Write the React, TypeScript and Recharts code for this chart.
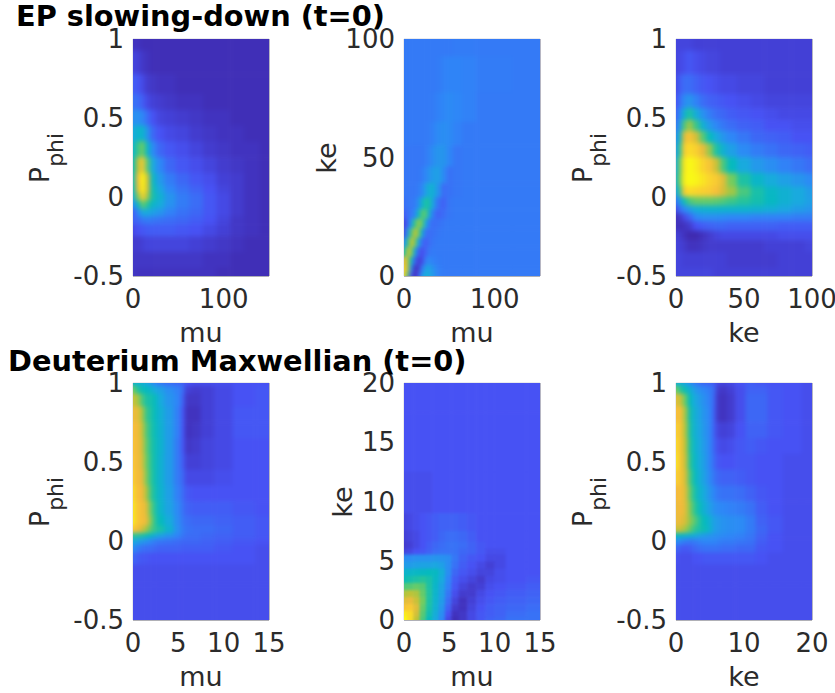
import { ScatterChart, Scatter, XAxis, YAxis, ReferenceLine } from 'recharts'

// colour map stops (parula), value 0..1 -> rgb
const parula = [
    [62, 38, 168], [71, 82, 244], [46, 135, 247], [25, 170, 222], [5, 186, 190], [45, 197, 148],
    [115, 204, 95], [190, 195, 55], [245, 186, 60], [250, 212, 45], [249, 251, 21],
]

const colorOf = (v: number) => {
    const p = Math.min(Math.max(v, 0), 1) * (parula.length - 1)
    const i = Math.min(Math.floor(p), parula.length - 2)
    const f = p - i
    const c = parula[i].map((a, k) => Math.round(a + (parula[i + 1][k] - a) * f))
    return `rgb(${c[0]},${c[1]},${c[2]})`
}

const phiRows = [1, 0.96, 0.9, 0.8, 0.7, 0.6, 0.5, 0.4, 0.3, 0.2, 0.12, 0.07, 0.03, 0, -0.05, -0.1, -0.2, -0.35, -0.5]

// EP slowing-down
const epMuX = [0, 6, 11, 16, 22, 30, 40, 55, 70, 85, 100, 115, 130, 150]
const epPhiY = [1, 0.85, 0.7, 0.6, 0.5, 0.4, 0.3, 0.2, 0.1, 0.05, 0, -0.05, -0.1, -0.15, -0.2, -0.3, -0.4, -0.5]
const epMuPhi = [
    [.03, .03, .02, .02, .02, .02, .02, .02, .02, .02, .02, .02, .02, .02],
    [.07, .06, .04, .03, .02, .02, .02, .02, .02, .02, .02, .02, .02, .02],
    [.12, .11, .08, .05, .04, .03, .03, .02, .02, .02, .02, .02, .02, .02],
    [.16, .15, .12, .08, .06, .05, .04, .03, .03, .02, .02, .02, .02, .02],
    [.22, .23, .20, .15, .10, .07, .06, .05, .04, .03, .03, .02, .02, .02],
    [.30, .36, .36, .24, .14, .10, .08, .07, .05, .04, .03, .03, .02, .02],
    [.36, .52, .60, .38, .21, .14, .11, .09, .07, .05, .04, .03, .03, .02],
    [.40, .70, .86, .56, .30, .20, .14, .11, .09, .07, .05, .04, .03, .02],
    [.42, .80, 1.0, .74, .38, .25, .18, .14, .11, .09, .06, .05, .03, .02],
    [.40, .78, .98, .74, .42, .29, .20, .16, .13, .10, .07, .05, .03, .02],
    [.32, .62, .88, .66, .44, .34, .24, .18, .15, .11, .08, .05, .03, .02],
    [.22, .38, .58, .48, .37, .31, .23, .18, .15, .11, .08, .05, .03, .02],
    [.12, .20, .30, .30, .27, .24, .19, .16, .14, .11, .08, .05, .03, .02],
    [.13, .14, .17, .18, .17, .16, .15, .14, .12, .10, .07, .04, .03, .02],
    [.08, .10, .11, .12, .12, .12, .12, .11, .10, .08, .06, .04, .03, .02],
    [.05, .05, .06, .07, .07, .07, .07, .07, .06, .05, .04, .03, .02, .02],
    [.04, .04, .04, .04, .04, .04, .04, .04, .04, .03, .03, .02, .02, .02],
    [.04, .03, .03, .03, .03, .03, .03, .03, .03, .03, .02, .02, .02, .02],
]

const epKeMuX = [0, 4, 8, 12, 16, 20, 24, 28, 32, 38, 44, 50, 58, 70, 90, 150]
const epKeY = [100, 85, 70, 60, 50, 42, 36, 30, 26, 22, 18, 14, 10, 6, 3, 0]
const epMuKe = [
    [.175, .175, .175, .175, .175, .175, .175, .175, .175, .175, .175, .175, .18, .18, .175, .175],
    [.175, .175, .175, .175, .175, .175, .175, .175, .175, .18, .19, .195, .195, .19, .18, .175],
    [.175, .175, .175, .175, .175, .175, .175, .175, .18, .19, .20, .21, .20, .19, .175, .175],
    [.175, .175, .175, .175, .175, .175, .175, .18, .19, .21, .22, .21, .19, .175, .175, .175],
    [.17, .17, .17, .17, .17, .17, .18, .19, .22, .24, .24, .20, .17, .175, .175, .175],
    [.17, .17, .17, .17, .17, .18, .20, .23, .26, .27, .21, .16, .17, .175, .175, .175],
    [.17, .17, .17, .17, .18, .20, .27, .33, .33, .24, .15, .16, .17, .175, .175, .175],
    [.15, .17, .17, .18, .22, .34, .46, .44, .28, .16, .13, .17, .175, .175, .175, .175],
    [.12, .15, .17, .20, .36, .54, .56, .34, .18, .13, .15, .17, .175, .175, .175, .175],
    [.07, .12, .26, .50, .64, .58, .32, .18, .15, .16, .17, .175, .175, .175, .175, .175],
    [.08, .24, .52, .70, .62, .34, .16, .15, .16, .17, .175, .175, .175, .175, .175, .175],
    [.20, .46, .70, .64, .32, .16, .12, .15, .17, .175, .175, .175, .175, .175, .175, .175],
    [.42, .68, .66, .34, .13, .09, .13, .17, .18, .175, .175, .175, .175, .175, .175, .175],
    [.76, .72, .42, .15, .06, .08, .18, .21, .19, .18, .175, .175, .175, .175, .175, .175],
    [.88, .70, .24, .04, .05, .17, .27, .28, .23, .19, .175, .175, .175, .175, .175, .175],
    [.88, .58, .12, .02, .09, .25, .32, .30, .25, .19, .175, .175, .175, .175, .175, .175],
]

const epKeX = [0, 3, 6, 10, 15, 20, 25, 30, 35, 40, 50, 60, 70, 80, 90, 100]
const epKePhiY = [1, 0.85, 0.7, 0.6, 0.52, 0.45, 0.38, 0.3, 0.2, 0.1, 0.03, -0.03, -0.08, -0.13, -0.18, -0.25, -0.3, -0.4, -0.5]
const epKePhi = [
    [.07, .07, .07, .07, .06, .06, .06, .06, .06, .06, .06, .06, .06, .06, .06, .06],
    [.07, .08, .09, .11, .09, .08, .07, .07, .06, .06, .06, .06, .06, .06, .06, .06],
    [.08, .12, .15, .15, .13, .11, .10, .09, .08, .08, .07, .07, .06, .06, .06, .06],
    [.10, .15, .21, .24, .19, .15, .13, .12, .11, .10, .09, .08, .07, .07, .07, .07],
    [.13, .20, .34, .46, .32, .23, .18, .15, .14, .12, .11, .10, .09, .08, .08, .08],
    [.17, .26, .54, .66, .52, .34, .25, .20, .17, .15, .13, .12, .10, .10, .09, .09],
    [.22, .38, .76, .84, .74, .56, .40, .30, .24, .20, .17, .14, .13, .12, .10, .10],
    [.26, .48, .86, .92, .88, .78, .64, .46, .34, .27, .21, .18, .16, .14, .13, .12],
    [.30, .58, .94, 1.0, .96, .90, .84, .72, .54, .40, .30, .25, .22, .19, .17, .15],
    [.34, .60, .96, 1.0, .98, .94, .90, .86, .76, .60, .46, .37, .31, .27, .24, .21],
    [.28, .50, .86, .92, .90, .88, .86, .82, .74, .66, .54, .45, .38, .34, .30, .26],
    [.16, .26, .42, .54, .58, .58, .58, .57, .55, .52, .48, .44, .39, .34, .30, .27],
    [.08, .15, .20, .26, .32, .34, .35, .35, .35, .35, .35, .34, .32, .29, .26, .24],
    [.02, .04, .08, .13, .20, .22, .22, .22, .21, .20, .20, .19, .19, .19, .18, .18],
    [.03, .02, .03, .05, .10, .12, .13, .14, .14, .13, .13, .13, .13, .12, .12, .12],
    [.06, .05, .03, .01, .01, .03, .05, .07, .08, .08, .08, .08, .08, .09, .09, .09],
    [.07, .06, .05, .03, .03, .04, .05, .05, .05, .05, .05, .05, .06, .06, .06, .07],
    [.07, .07, .06, .06, .06, .06, .06, .06, .06, .05, .05, .05, .05, .06, .06, .06],
    [.07, .07, .07, .07, .07, .07, .07, .06, .06, .06, .06, .06, .06, .06, .06, .06],
]

// Deuterium Maxwellian
const dMuX = [0, 0.5, 1, 1.5, 2, 2.5, 3, 4, 5, 5.5, 6, 7, 8, 10, 12, 15]
const dMuPhi = [
    [.35, .35, .33, .30, .24, .20, .17, .15, .14, .13, .10, .09, .09, .09, .10, .10],
    [.60, .50, .42, .40, .36, .30, .27, .22, .19, .15, .06, .05, .06, .08, .10, .11],
    [.72, .68, .55, .46, .44, .40, .30, .24, .20, .13, .04, .04, .06, .08, .10, .11],
    [.78, .78, .68, .52, .46, .40, .33, .26, .19, .11, .03, .03, .06, .08, .11, .11],
    [.82, .80, .72, .56, .47, .41, .34, .26, .19, .11, .03, .04, .06, .08, .11, .11],
    [.84, .80, .74, .58, .48, .42, .35, .26, .18, .11, .04, .05, .07, .08, .10, .10],
    [.85, .80, .75, .60, .49, .42, .34, .26, .18, .12, .06, .06, .07, .08, .10, .10],
    [.88, .80, .78, .62, .50, .42, .34, .26, .18, .14, .08, .08, .08, .09, .10, .10],
    [.92, .82, .80, .68, .52, .43, .35, .27, .19, .15, .11, .10, .10, .10, .10, .10],
    [.95, .85, .82, .76, .58, .46, .36, .28, .21, .16, .13, .12, .12, .12, .11, .10],
    [.96, .85, .82, .78, .62, .48, .40, .31, .22, .17, .15, .14, .14, .13, .12, .11],
    [.85, .80, .74, .66, .56, .50, .45, .35, .23, .18, .16, .15, .15, .14, .12, .11],
    [.50, .48, .46, .42, .38, .32, .28, .24, .20, .17, .15, .15, .14, .13, .12, .11],
    [.30, .28, .25, .23, .20, .18, .17, .16, .15, .14, .14, .14, .13, .12, .11, .10],
    [.22, .18, .16, .15, .15, .14, .13, .13, .13, .12, .12, .12, .12, .11, .10, .09],
    [.14, .12, .11, .11, .10, .10, .10, .10, .10, .10, .10, .10, .10, .10, .10, .09],
    [.09, .09, .09, .09, .09, .09, .09, .09, .09, .09, .09, .09, .09, .09, .09, .09],
    [.09, .09, .09, .09, .09, .09, .09, .09, .09, .09, .09, .09, .09, .09, .09, .09],
    [.09, .09, .09, .09, .09, .09, .09, .09, .09, .09, .09, .09, .09, .09, .09, .09],
]

const dKeMuX = [0, 0.7, 1.4, 2.1, 2.8, 3.5, 4.2, 4.9, 5.6, 6.5, 7.5, 8.5, 9.5, 10.5, 12, 15]
const dKeY = [20, 15, 10, 8, 7, 6.2, 5.8, 5.2, 4.6, 4, 3.4, 2.8, 2.2, 1.6, 1, 0.5, 0]
const dMuKe = [
    [.10, .10, .10, .10, .10, .10, .10, .10, .10, .10, .10, .10, .10, .10, .10, .10],
    [.10, .10, .10, .10, .10, .10, .10, .10, .10, .10, .10, .10, .10, .10, .10, .10],
    [.09, .09, .09, .09, .09, .10, .10, .10, .10, .10, .10, .10, .10, .10, .10, .10],
    [.07, .08, .09, .10, .11, .12, .13, .13, .13, .12, .11, .10, .10, .10, .10, .10],
    [.06, .07, .08, .10, .11, .12, .14, .15, .15, .14, .12, .10, .10, .10, .10, .10],
    [.05, .06, .08, .10, .12, .14, .15, .16, .16, .15, .13, .11, .10, .10, .10, .10],
    [.07, .08, .10, .11, .13, .15, .16, .16, .16, .14, .13, .11, .09, .09, .10, .10],
    [.22, .22, .23, .23, .23, .24, .23, .22, .17, .13, .11, .10, .08, .08, .10, .10],
    [.26, .26, .27, .28, .28, .29, .27, .22, .16, .12, .10, .08, .06, .08, .10, .10],
    [.36, .37, .38, .39, .40, .39, .32, .22, .14, .11, .09, .07, .07, .09, .10, .10],
    [.42, .44, .46, .48, .45, .38, .30, .20, .12, .09, .07, .05, .08, .09, .10, .11],
    [.55, .56, .58, .56, .46, .37, .28, .19, .11, .07, .05, .06, .09, .10, .11, .12],
    [.68, .70, .68, .58, .47, .36, .27, .17, .09, .05, .05, .08, .10, .11, .12, .13],
    [.76, .78, .72, .60, .46, .35, .26, .15, .07, .03, .06, .09, .11, .12, .13, .14],
    [.84, .86, .76, .58, .45, .34, .24, .13, .05, .03, .07, .10, .12, .13, .14, .15],
    [.96, .92, .74, .56, .43, .32, .22, .10, .03, .04, .08, .11, .12, .13, .15, .16],
    [1.0, .92, .70, .54, .40, .30, .20, .08, .02, .04, .08, .11, .13, .14, .16, .16],
]

const dKeX = [0, 0.7, 1.4, 2.1, 2.8, 3.5, 4.2, 5, 5.6, 6.2, 7, 8, 9.5, 11, 12.5, 14.5, 17, 20]
const dKePhi = [
    [.33, .33, .28, .22, .18, .15, .14, .13, .12, .08, .07, .08, .10, .12, .11, .10, .10, .09],
    [.60, .50, .42, .34, .26, .22, .20, .18, .15, .05, .04, .06, .09, .13, .13, .11, .10, .09],
    [.76, .72, .58, .40, .30, .26, .22, .19, .14, .04, .03, .05, .09, .14, .14, .11, .10, .09],
    [.82, .82, .66, .44, .33, .28, .23, .20, .13, .04, .03, .05, .09, .14, .14, .11, .10, .09],
    [.88, .84, .68, .46, .34, .29, .24, .20, .13, .07, .06, .07, .10, .13, .13, .11, .10, .09],
    [.92, .84, .70, .48, .36, .30, .25, .20, .14, .09, .08, .09, .11, .12, .11, .10, .10, .09],
    [.94, .84, .72, .50, .38, .31, .26, .20, .15, .11, .10, .10, .11, .11, .10, .10, .09, .09],
    [.88, .84, .74, .54, .41, .33, .27, .21, .17, .14, .13, .13, .12, .11, .10, .10, .09, .09],
    [.80, .82, .76, .58, .45, .36, .30, .24, .20, .17, .16, .16, .15, .13, .11, .10, .09, .09],
    [.78, .80, .76, .62, .50, .41, .33, .27, .23, .21, .20, .19, .18, .16, .12, .10, .09, .09],
    [.78, .78, .74, .64, .56, .47, .40, .34, .27, .25, .23, .22, .21, .18, .13, .11, .09, .09],
    [.72, .72, .66, .58, .50, .45, .42, .36, .27, .25, .23, .22, .21, .18, .14, .11, .09, .09],
    [.40, .38, .36, .34, .32, .28, .26, .24, .23, .22, .21, .20, .19, .17, .13, .10, .09, .09],
    [.22, .20, .18, .17, .18, .19, .20, .20, .20, .19, .18, .18, .17, .16, .12, .10, .09, .09],
    [.14, .12, .11, .12, .14, .15, .16, .16, .16, .16, .15, .15, .14, .14, .11, .10, .09, .09],
    [.10, .09, .09, .09, .10, .10, .11, .11, .11, .11, .11, .11, .11, .11, .10, .09, .09, .09],
    [.09, .09, .09, .09, .09, .09, .09, .09, .09, .09, .09, .09, .09, .09, .09, .09, .09, .09],
    [.09, .09, .09, .09, .09, .09, .09, .09, .09, .09, .09, .09, .09, .09, .09, .09, .09, .09],
    [.09, .09, .09, .09, .09, .09, .09, .09, .09, .09, .09, .09, .09, .09, .09, .09, .09, .09],
]

const titleTop = 'EP slowing-down (t=0)'
const titleBottom = 'Deuterium Maxwellian (t=0)'

const PLOT_W = 136
const PLOT_H = 237
const TEXT = '#2b2b2b'
const FONT = '"DejaVu Sans"'
const FONT_SIZE = 26

// each value becomes a cell reaching halfway to its neighbours; edge cells run past the
// axis limits so the blur does not fade at the frame, the clip path trims them
const buildCells = (xs: number[], ys: number[], rows: number[][]) => {
    const dx = xs[xs.length - 1] - xs[0]
    const dy = ys[0] - ys[ys.length - 1]
    return rows.flatMap((row, r) =>
        row.map((v, c) => ({
            x: xs[c],
            y: ys[r],
            v,
            x0: c === 0 ? xs[0] - dx * 0.2 : (xs[c - 1] + xs[c]) / 2,
            x1: c === xs.length - 1 ? xs[c] + dx * 0.2 : (xs[c] + xs[c + 1]) / 2,
            y0: r === ys.length - 1 ? ys[r] - dy * 0.2 : (ys[r] + ys[r + 1]) / 2,
            y1: r === 0 ? ys[r] + dy * 0.2 : (ys[r - 1] + ys[r]) / 2,
        }))
    )
}

interface IPanel {
    id: string
    left: number
    top: number
    xs: number[]
    ys: number[]
    rows: number[][]
    xTicks: number[]
    yTicks: number[]
    xName: string
    yName: 'ke' | 'phi'
    yNameX: number
    blur: number
}

const Panel = ({ id, left, top, xs, ys, rows, xTicks, yTicks, xName, yName, yNameX, blur }: IPanel) => {
    const mLeft = 20
    const axisW = 100
    const mTop = 20
    const xMin = xs[0]
    const xMax = xs[xs.length - 1]
    const yMin = ys[ys.length - 1]
    const yMax = ys[0]
    const sx = PLOT_W / (xMax - xMin)
    const sy = PLOT_H / (yMax - yMin)
    const tick = { fontSize: FONT_SIZE, fontFamily: FONT, fill: TEXT }
    const plotX = mLeft + axisW
    const labelBase = plotX + yNameX
    const midY = mTop + PLOT_H / 2 + 0.5

    const Cell = (p: any) => {
        const d = p.payload
        return (
            <rect
                x={p.cx + (d.x0 - d.x) * sx - 0.3}
                y={p.cy + (d.y - d.y1) * sy - 0.3}
                width={(d.x1 - d.x0) * sx + 0.6}
                height={(d.y1 - d.y0) * sy + 0.6}
                fill={colorOf(d.v)}
            />
        )
    }

    return (
        <div style={{ position: 'absolute', left: left - plotX, top: top - mTop }}>
            <style>{`.${id} { filter: blur(${blur}px); clip-path: url(#clip-${id}); }`}</style>
            <ScatterChart
                width={plotX + PLOT_W + 26}
                height={mTop + PLOT_H + 75}
                margin={{ left: mLeft, top: mTop, right: 26, bottom: 5 }}
            >
                <defs>
                    <clipPath id={`clip-${id}`}>
                        <rect x={plotX} y={mTop} width={PLOT_W} height={PLOT_H} />
                    </clipPath>
                </defs>
                <XAxis
                    type='number'
                    dataKey='x'
                    domain={[xMin, xMax]}
                    ticks={xTicks}
                    interval={0}
                    height={70}
                    tickLine={false}
                    tickMargin={8}
                    tick={tick}
                    axisLine={{ stroke: '#3a3a4a', strokeWidth: 0.8 }}
                />
                <YAxis
                    type='number'
                    dataKey='y'
                    domain={[yMin, yMax]}
                    ticks={yTicks}
                    interval={0}
                    width={axisW}
                    tickLine={false}
                    tickMargin={3}
                    tick={tick}
                    axisLine={{ stroke: '#b8bcc8', strokeWidth: 0.6 }}
                />
                <Scatter
                    className={id}
                    data={buildCells(xs, ys, rows)}
                    shape={Cell}
                    isAnimationActive={false}
                />
                <ReferenceLine x={xMax} stroke='#4a4a6a' strokeWidth={0.8} />
                <ReferenceLine y={yMax} stroke='#b8bcc8' strokeWidth={0.6} />
                <text
                    x={plotX + PLOT_W / 2}
                    y={mTop + PLOT_H + 65.5}
                    textAnchor='middle'
                    fontSize={FONT_SIZE + 1}
                    fontFamily={FONT}
                    fill={TEXT}
                >
                    {xName}
                </text>
                <text
                    transform={`translate(${labelBase},${midY}) rotate(-90)`}
                    textAnchor='middle'
                    fontSize={FONT_SIZE + 1}
                    fontFamily={FONT}
                    fill={TEXT}
                >
                    {yName === 'ke' ? 'ke' : (
                        <>
                            P
                            <tspan fontSize={22} dy={14}>phi</tspan>
                        </>
                    )}
                </text>
            </ScatterChart>
        </div>
    )
}

const titleStyle = {
    position: 'absolute' as const,
    fontFamily: FONT,
    fontWeight: 700,
    fontSize: 28.8,
    lineHeight: '30px',
    color: '#000',
    whiteSpace: 'nowrap' as const,
    zIndex: 2,
}

export default function App() {
    const LEFT = [132.5, 403.7, 676]
    const TOP = [38.5, 383]
    const phiTicks = [-0.5, 0, 0.5, 1]
    return (
        <div style={{ position: 'absolute', left: 0, top: 0, width: 835, height: 693, background: '#fff', overflow: 'hidden' }}>
            <Panel id='p1' left={LEFT[0]} top={TOP[0]} xs={epMuX} ys={epPhiY} rows={epMuPhi} xTicks={[0, 100]} yTicks={phiTicks} xName='mu' yName='phi' yNameX={-84.5} blur={2.5} />
            <Panel id='p2' left={LEFT[1]} top={TOP[0]} xs={epKeMuX} ys={epKeY} rows={epMuKe} xTicks={[0, 100]} yTicks={[0, 50, 100]} xName='mu' yName='ke' yNameX={-68.5} blur={2} />
            <Panel id='p3' left={LEFT[2]} top={TOP[0]} xs={epKeX} ys={epKePhiY} rows={epKePhi} xTicks={[0, 50, 100]} yTicks={phiTicks} xName='ke' yName='phi' yNameX={-84.5} blur={2.5} />
            <Panel id='p4' left={LEFT[0]} top={TOP[1]} xs={dMuX} ys={phiRows} rows={dMuPhi} xTicks={[0, 5, 10, 15]} yTicks={phiTicks} xName='mu' yName='phi' yNameX={-84.5} blur={2} />
            <Panel id='p5' left={LEFT[1]} top={TOP[1]} xs={dKeMuX} ys={dKeY} rows={dMuKe} xTicks={[0, 5, 10, 15]} yTicks={[0, 5, 10, 15, 20]} xName='mu' yName='ke' yNameX={-52} blur={1.6} />
            <Panel id='p6' left={LEFT[2]} top={TOP[1]} xs={dKeX} ys={phiRows} rows={dKePhi} xTicks={[0, 10, 20]} yTicks={phiTicks} xName='ke' yName='phi' yNameX={-84.5} blur={2} />
            <div style={{ ...titleStyle, left: 16, top: 1 }}>{titleTop}</div>
            <div style={{ ...titleStyle, left: 8, top: 346 }}>{titleBottom}</div>
        </div>
    )
}
